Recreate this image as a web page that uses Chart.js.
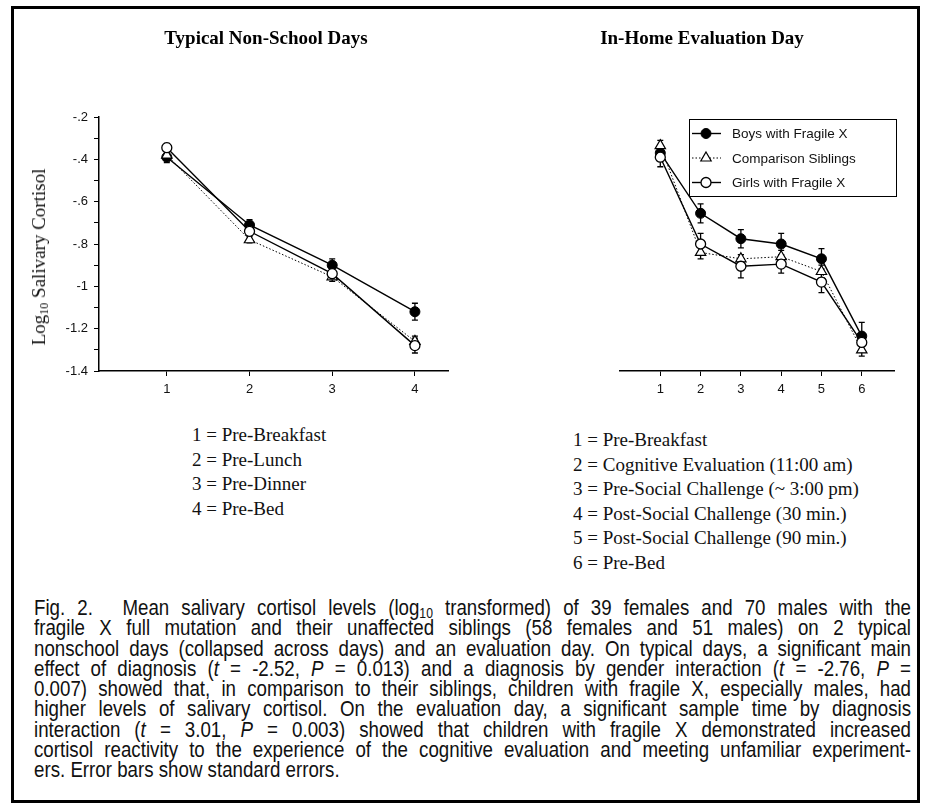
<!DOCTYPE html>
<html>
<head>
<meta charset="utf-8">
<script src="https://cdn.jsdelivr.net/npm/chart.js@4.4.1/dist/chart.umd.min.js"></script>
<style>
  body { margin: 0; background: #fff; }
  #page { position: relative; width: 927px; height: 809px; overflow: hidden; background: #fff; }
  #frame { position: absolute; left: 11px; top: 6px; width: 903px; height: 791px; border: 3px solid #000; }
  canvas { position: absolute; top: 0; }
  .title { position: absolute; top: 38px; transform: translate(-50%, -50%); font: bold 19px 'Liberation Serif', serif; white-space: nowrap; color: #000; }
  #ylabel { position: absolute; left: 40px; top: 257px; transform: translate(-50%, -50%) rotate(-90deg); font: 19px 'Liberation Serif', serif; white-space: nowrap; color: #111; }
  #ylabel sub { font-size: 12px; vertical-align: -3px; }
  .codes { position: absolute; font: 19px 'Liberation Serif', serif; line-height: 24.5px; color: #111; white-space: nowrap; }
  #caption { position: absolute; left: 34px; top: 598px; width: 877px; font: 21.5px 'Liberation Sans', Arial, sans-serif; line-height: 20.3px; color: #111; }
  #caption div { height: 20.3px; white-space: nowrap; }
  #caption .ln { display: inline-block; white-space: nowrap; transform-origin: 0 50%; }
  #caption sub { font-size: 14px; vertical-align: -3px; line-height: 0; }
  #caption .gap { display: inline-block; width: 34px; }
</style>
</head>
<body>
<div id="page">
  <div id="frame"></div>
  <canvas id="left" width="470" height="400" style="left:0"></canvas>
  <canvas id="right" width="457" height="400" style="left:470px"></canvas>
  <div class="title" style="left:266px">Typical Non-School Days</div>
  <div class="title" style="left:702px">In-Home Evaluation Day</div>
  <div id="ylabel">Log<sub>10</sub> Salivary Cortisol</div>
  <div class="codes" id="leftCodes" style="left:192px; top:423px"></div>
  <div class="codes" id="rightCodes" style="left:573px; top:428px"></div>
  <div id="caption">
    <div><span class="ln">Fig. 2.<span class="gap"></span>Mean salivary cortisol levels (log<sub>10</sub> transformed) of 39 females and 70 males with the</span></div>
    <div><span class="ln">fragile X full mutation and their unaffected siblings (58 females and 51 males) on 2 typical</span></div>
    <div><span class="ln">nonschool days (collapsed across days) and an evaluation day. On typical days, a significant main</span></div>
    <div><span class="ln">effect of diagnosis (<i>t</i> = -2.52, <i>P</i> = 0.013) and a diagnosis by gender interaction (<i>t</i> = -2.76, <i>P</i> =</span></div>
    <div><span class="ln">0.007) showed that, in comparison to their siblings, children with fragile X, especially males, had</span></div>
    <div><span class="ln">higher levels of salivary cortisol. On the evaluation day, a significant sample time by diagnosis</span></div>
    <div><span class="ln">interaction (<i>t</i> = 3.01, <i>P</i> = 0.003) showed that children with fragile X demonstrated increased</span></div>
    <div><span class="ln">cortisol reactivity to the experience of the cognitive evaluation and meeting unfamiliar experiment-</span></div>
    <div><span class="ln last">ers. Error bars show standard errors.</span></div>
  </div>
</div>
<script>
// Sample times
const leftTimes = [1, 2, 3, 4];
const rightTimes = [1, 2, 3, 4, 5, 6];
const leftTimeNames = ['Pre-Breakfast', 'Pre-Lunch', 'Pre-Dinner', 'Pre-Bed'];
const rightTimeNames = ['Pre-Breakfast', 'Cognitive Evaluation (11:00 am)', 'Pre-Social Challenge (~ 3:00 pm)',
    'Post-Social Challenge (30 min.)', 'Post-Social Challenge (90 min.)', 'Pre-Bed'];

// Typical non-school days (log10 cortisol means and standard errors)
const leftBoys = [-0.39, -0.71, -0.90, -1.12];
const leftSiblings = [-0.38, -0.78, -0.955, -1.26];
const leftGirls = [-0.345, -0.74, -0.94, -1.28];
const leftBoysSE = [0.025, 0.025, 0.03, 0.04];
const leftSiblingsSE = [0.02, 0.015, 0.022, 0.025];
const leftGirlsSE = [0.02, 0.02, 0.02, 0.035];

// In-home evaluation day
const rightBoys = [-0.37, -0.655, -0.775, -0.80, -0.87, -1.235];
const rightSiblings = [-0.335, -0.84, -0.87, -0.86, -0.93, -1.30];
const rightGirls = [-0.39, -0.80, -0.905, -0.895, -0.98, -1.265];
const rightBoysSE = [0.03, 0.045, 0.043, 0.05, 0.048, 0.065];
const rightSiblingsSE = [0.025, 0.03, 0.02, 0.03, 0.03, 0.03];
const rightGirlsSE = [0.045, 0.05, 0.055, 0.043, 0.05, 0.045];

// Axis ticks
const yTicks = [-1.4, -1.3, -1.2, -1.1, -1.0, -0.9, -0.8, -0.7, -0.6, -0.5, -0.4, -0.3, -0.2];
const yMajor = [-1.4, -1.2, -1.0, -0.8, -0.6, -0.4, -0.2];

const seriesNames = ['Boys with Fragile X', 'Comparison Siblings', 'Girls with Fragile X'];

document.getElementById('leftCodes').innerHTML =
    leftTimes.map((t, i) => t + ' = ' + leftTimeNames[i]).join('<br>');
document.getElementById('rightCodes').innerHTML =
    rightTimes.map((t, i) => t + ' = ' + rightTimeNames[i]).join('<br>');

// Caption: condense glyphs and justify each line with word spacing
function fitCaption() {
    const full = 877, squeeze = 0.87;
    document.querySelectorAll('#caption .ln').forEach(el => {
        el.style.transform = 'scaleX(' + squeeze + ')';
        if (el.classList.contains('last')) return;
        const w = el.getBoundingClientRect().width;
        const spaces = (el.textContent.match(/ /g) || []).length;
        if (spaces > 0)
            el.style.wordSpacing = ((full - w) / spaces / squeeze) + 'px';
    });
}
fitCaption();

function fmtY(v) {
    let s = String(Math.round(v * 10) / 10);
    return s.replace('0.', '.');
}

function points(xs, ys) {
    return xs.map((x, i) => ({x: x, y: ys[i]}));
}

// Build the three datasets for a panel
function makeSets(xs, boys, sib, girls, boysSE, sibSE, girlsSE) {
    return [{
            label: seriesNames[0], data: points(xs, boys), se: boysSE, order: 2,
            borderColor: '#000', borderWidth: 1.4,
            pointStyle: 'circle', pointRadius: 5, pointBackgroundColor: '#000', pointBorderColor: '#000', pointBorderWidth: 1
        }, {
            label: seriesNames[1], data: points(xs, sib), se: sibSE, order: 1,
            borderColor: '#000', borderWidth: 1, borderDash: [1.5, 2],
            pointStyle: 'triangle', pointRadius: 6, pointBackgroundColor: '#fff', pointBorderColor: '#000', pointBorderWidth: 1.2
        }, {
            label: seriesNames[2], data: points(xs, girls), se: girlsSE, order: 0,
            borderColor: '#000', borderWidth: 1.4,
            pointStyle: 'circle', pointRadius: 5, pointBackgroundColor: '#fff', pointBorderColor: '#000', pointBorderWidth: 1.3
        }];
}

// Error bars drawn under the markers
const errorBars = {
    id: 'errorBars',
    beforeDatasetsDraw(chart) {
        const ctx = chart.ctx;
        const x = chart.scales.x, y = chart.scales.y;
        ctx.save();
        ctx.strokeStyle = '#000';
        ctx.lineWidth = 1.3;
        chart.data.datasets.forEach(ds => {
            ds.data.forEach((p, i) => {
                const px = x.getPixelForValue(p.x);
                const top = y.getPixelForValue(p.y + ds.se[i]);
                const bot = y.getPixelForValue(p.y - ds.se[i]);
                ctx.beginPath();
                ctx.moveTo(px, top); ctx.lineTo(px, bot);
                ctx.moveTo(px - 3, top); ctx.lineTo(px + 3, top);
                ctx.moveTo(px - 3, bot); ctx.lineTo(px + 3, bot);
                ctx.stroke();
            });
        });
        ctx.restore();
    }
};

// Boxed legend with line + marker samples
const boxLegend = {
    id: 'boxLegend',
    afterDraw(chart, args, opts) {
        if (!opts.show) return;
        const ctx = chart.ctx;
        ctx.save();
        ctx.strokeStyle = '#000';
        ctx.lineWidth = 1;
        ctx.strokeRect(219.5, 119.5, 207, 77);
        ctx.font = '13.5px "Liberation Sans", Arial, sans-serif';
        ctx.textBaseline = 'middle';
        chart.data.datasets.forEach((ds, i) => {
            const ry = 133.5 + i * 24.5;
            ctx.beginPath();
            ctx.strokeStyle = '#000';
            ctx.setLineDash(ds.borderDash || []);
            ctx.lineWidth = ds.borderWidth;
            ctx.moveTo(222, ry); ctx.lineTo(251, ry);
            ctx.stroke();
            ctx.setLineDash([]);
            ctx.fillStyle = ds.pointBackgroundColor;
            ctx.strokeStyle = ds.pointBorderColor;
            ctx.lineWidth = ds.pointBorderWidth;
            Chart.helpers.drawPoint(ctx, {pointStyle: ds.pointStyle, radius: ds.pointRadius, rotation: 0, borderWidth: ds.pointBorderWidth}, 236, ry);
            ctx.fillStyle = '#111';
            ctx.fillText(ds.label, 262, ry + 1);
        });
        ctx.restore();
    }
};

function makeChart(id, xs, sets, xMin, xMax, showY, pad, legend) {
    return new Chart(document.getElementById(id), {
        type: 'line',
        data: {datasets: sets},
        plugins: [errorBars, boxLegend],
        options: {
            responsive: false,
            animation: false,
            layout: {padding: pad},
            plugins: {legend: {display: false}, tooltip: {enabled: false}, boxLegend: {show: legend}},
            scales: {
                x: {
                    type: 'linear', min: xMin, max: xMax,
                    afterBuildTicks: s => { s.ticks = xs.map(v => ({value: v})); },
                    afterFit: s => { s.height = 29; },
                    border: {display: true, color: '#000', width: 1.5},
                    grid: {drawOnChartArea: false, drawTicks: true, tickLength: 5, tickColor: '#000', tickWidth: 1},
                    ticks: {padding: 6, color: '#111', font: {family: 'Liberation Sans', size: 13}}
                },
                y: {
                    type: 'linear', min: -1.4, max: -0.2, display: showY,
                    afterBuildTicks: s => { s.ticks = yTicks.map(v => ({value: v})); },
                    afterFit: s => { s.width = 99; },
                    border: {display: true, color: '#000', width: 1.5},
                    grid: {drawOnChartArea: false, drawTicks: true, tickLength: 5, tickColor: '#000', tickWidth: 1},
                    ticks: {
                        padding: 6, color: '#111', font: {family: 'Liberation Sans', size: 13},
                        callback: v => yMajor.some(m => Math.abs(m - v) < 1e-6) ? fmtY(v) : ''
                    }
                }
            }
        }
    });
}

makeChart('left', leftTimes,
    makeSets(leftTimes, leftBoys, leftSiblings, leftGirls, leftBoysSE, leftSiblingsSE, leftGirlsSE),
    0.18, 4.4, true, {top: 117, right: 22, bottom: 0, left: 0}, false);
makeChart('right', rightTimes,
    makeSets(rightTimes, rightBoys, rightSiblings, rightGirls, rightBoysSE, rightSiblingsSE, rightGirlsSE),
    0, 6.8, false, {top: 117, right: 33, bottom: 0, left: 51}, true);
</script>
</body>
</html>
